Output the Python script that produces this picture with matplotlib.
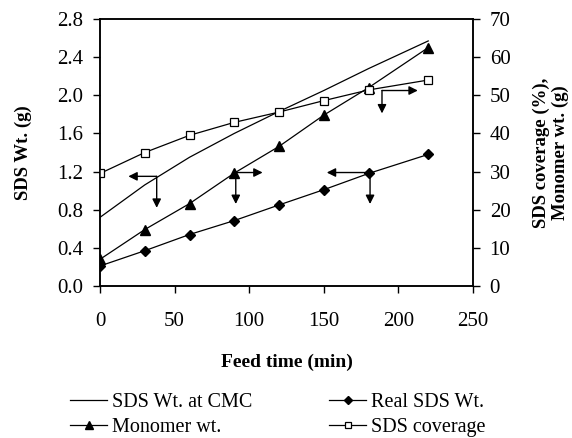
import matplotlib
matplotlib.use("Agg")
import matplotlib.pyplot as plt
import numpy as np

plt.rcParams['font.family'] = ['Liberation Serif', 'DejaVu Serif']

feed_time = [0, 30, 60, 90, 120, 150, 180, 220]
sds_cmc = [0.72, 1.06, 1.35, 1.60, 1.83, 2.05, 2.28, 2.57]        # left axis (g)
real_sds = [0.21, 0.37, 0.54, 0.686, 0.85, 1.01, 1.18, 1.38]      # left axis (g)
monomer = [7.0, 14.8, 21.6, 29.6, 36.6, 44.8, 52.0, 62.5]         # right axis (g)
coverage = [29.5, 35.0, 39.5, 42.9, 45.6, 48.6, 51.4, 54.0]       # right axis (%)

x_ticks = [0, 50, 100, 150, 200, 250]
left_ticks = [0.0, 0.4, 0.8, 1.2, 1.6, 2.0, 2.4, 2.8]
right_ticks = [0, 10, 20, 30, 40, 50, 60, 70]

# arrow groups: (origin x, origin y on left scale, horizontal tip x, vertical tip y)
arrows = [
    (38, 1.15, 19, 0.82),
    (91, 1.19, 109, 0.86),
    (189, 2.05, 213, 1.81),
    (181, 1.19, 152, 0.86),
]

fig = plt.figure(figsize=(5.72, 4.38), dpi=100)
ax = fig.add_axes([100 / 572, 1 - 286 / 438, 373 / 572, 267 / 438])
ax2 = ax.twinx()

lw = 0.9
l1, = ax.plot(feed_time, sds_cmc, color='k', lw=lw, label='SDS Wt. at CMC')
l2, = ax.plot(feed_time, real_sds, color='k', lw=lw, marker='D', ms=5.5,
              label='Real SDS Wt.')
l3, = ax2.plot(feed_time, monomer, color='k', lw=lw, marker='^', ms=7,
               label='Monomer wt.')
l4, = ax2.plot(feed_time, coverage, color='k', lw=lw, marker='s', ms=6,
               mfc='white', mew=0.9, label='SDS coverage')

for ox, oy, hx, vy in arrows:
    props = dict(arrowstyle='-|>', color='k', lw=1.0, mutation_scale=13,
                 shrinkA=0, shrinkB=0)
    ax.annotate('', xy=(hx, oy), xytext=(ox, oy), arrowprops=props)
    ax.annotate('', xy=(ox, vy), xytext=(ox, oy), arrowprops=props)

ax.set_xlim(0, 250)
ax.set_ylim(0, 2.8)
ax2.set_ylim(0, 70)
ax.set_xticks(x_ticks)
ax.set_yticks(left_ticks)
ax.set_yticklabels([f'{v:.1f}' for v in left_ticks])
ax2.set_yticks(right_ticks)

ax.tick_params(axis='x', direction='out', length=5, width=1, pad=14, labelsize=15)
ax.tick_params(axis='y', direction='out', length=5, width=1, pad=7, labelsize=15)
ax2.tick_params(axis='y', direction='out', length=5, width=1, pad=7, labelsize=15)
for a in (ax, ax2):
    for s in a.spines.values():
        s.set_linewidth(1.1)

ax.set_xlabel('Feed time (min)', fontsize=14, fontweight='bold', labelpad=16)
ax.set_ylabel('SDS Wt. (g)', fontsize=13.5, fontweight='bold', labelpad=18)
ax2.set_ylabel('SDS coverage (%),\nMonomer wt. (g)', fontsize=13.5,
               fontweight='bold', labelpad=16, linespacing=1.15)

fig.legend([l1, l3, l2, l4],
           ['SDS Wt. at CMC', 'Monomer wt.', 'Real SDS Wt.', 'SDS coverage'],
           ncol=2, loc='upper left', bbox_to_anchor=(70 / 572, 1 - 393 / 438),
           frameon=False, fontsize=14.5, handlelength=1.85, handletextpad=0.25,
           columnspacing=3.8, labelspacing=0.3, borderpad=0, borderaxespad=0,
           markerscale=0.8)

fig.savefig('out.png', dpi=100)
